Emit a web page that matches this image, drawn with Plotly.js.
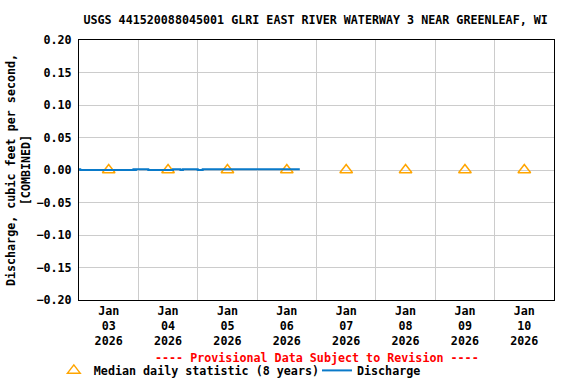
<!DOCTYPE html>
<html>
<head>
<meta charset="utf-8">
<script src="https://cdn.plot.ly/plotly-3.0.1.min.js"></script>
<style>html,body{margin:0;padding:0;background:#fff}#chart{width:576px;height:384px}</style>
</head>
<body>
<div id="chart"></div>
<script>
// Median daily statistic (8 years), plotted at noon of each day
var medianDates = ['2026-01-03 12:00','2026-01-04 12:00','2026-01-05 12:00','2026-01-06 12:00','2026-01-07 12:00','2026-01-08 12:00','2026-01-09 12:00','2026-01-10 12:00'];
var medianValues = [0, 0, 0, 0, 0, 0, 0, 0];

// Discharge (provisional)
var dischargeTimes = ['2026-01-03 00:00','2026-01-03 00:30','2026-01-03 01:00','2026-01-03 04:00','2026-01-03 08:00','2026-01-03 12:00','2026-01-03 16:00','2026-01-03 20:00','2026-01-03 22:00','2026-01-03 22:30','2026-01-03 23:00','2026-01-04 00:00','2026-01-04 01:00','2026-01-04 02:00','2026-01-04 03:00','2026-01-04 04:00','2026-01-04 06:00','2026-01-04 08:00','2026-01-04 10:00','2026-01-04 14:00','2026-01-04 15:00','2026-01-04 16:00','2026-01-04 17:00','2026-01-04 18:00','2026-01-04 20:00','2026-01-04 22:00','2026-01-05 00:00','2026-01-05 02:00','2026-01-05 04:00','2026-01-05 06:00','2026-01-05 08:00','2026-01-05 12:00','2026-01-05 16:00','2026-01-05 20:00','2026-01-06 00:00','2026-01-06 04:00','2026-01-06 08:00','2026-01-06 12:00','2026-01-06 17:15'];
var dischargeValues = [0.001,0,0,0,0,0,0,0,0.001,0,0.001,0.001,0.001,0.001,0.001,0,0,0,0,0.001,0.001,0.001,0,0.001,0.001,0.001,0,0.001,0.001,0.001,0.001,0.001,0.001,0.001,0.001,0.001,0.001,0.001,0.001];

// Tick labels
var tickDates = medianDates;
var tickLabels = ['Jan<br>03<br>2026','Jan<br>04<br>2026','Jan<br>05<br>2026','Jan<br>06<br>2026','Jan<br>07<br>2026','Jan<br>08<br>2026','Jan<br>09<br>2026','Jan<br>10<br>2026'];
var yTicks = [0.20, 0.15, 0.10, 0.05, 0.00, -0.05, -0.10, -0.15, -0.20];

var F = 'DejaVu Sans Mono, monospace';
var FS = 11.7;
function fnt(c) { return {family: F, size: FS, color: c || '#000', weight: 'bold'}; }

var traces = [
  {x: medianDates, y: medianValues, type: 'scatter', mode: 'markers', name: 'Median daily statistic (8 years)',
   legend: 'legend',
   marker: {symbol: 'triangle-up-open', size: 11, color: '#FFA500', line: {width: 1.5, color: '#FFA500'}}},
  {x: dischargeTimes, y: dischargeValues, type: 'scatter', mode: 'lines', name: 'Discharge',
   legend: 'legend2',
   line: {color: '#0a7ac9', width: 2, shape: 'hv'}}
];

var layout = {
  width: 576, height: 384,
  margin: {l: 79, r: 22, t: 40, b: 84, autoexpand: false},
  paper_bgcolor: '#fff', plot_bgcolor: '#fff',
  font: fnt(),
  title: {text: 'USGS 441520088045001 GLRI EAST RIVER WATERWAY 3 NEAR GREENLEAF, WI',
          font: fnt(), x: 0.548, xanchor: 'center', y: 0.948, yanchor: 'middle'},
  xaxis: {type: 'date', range: ['2026-01-03 00:00', '2026-01-11 00:00'],
          tickmode: 'array', tickvals: tickDates, ticktext: tickLabels, showgrid: false,
          ticks: '', zeroline: false, showline: true, linecolor: '#000', linewidth: 1, mirror: true,
          tickfont: fnt(), automargin: false,
          minor: {tick0: '2026-01-03 00:00', dtick: 86400000, showgrid: true, gridcolor: '#cccccc', gridwidth: 1, ticks: ''}},
  yaxis: {range: [-0.2, 0.2], tickmode: 'array', tickvals: yTicks, tickformat: '.2f',
          showgrid: true, gridcolor: '#cccccc', gridwidth: 1, zeroline: false, ticks: '',
          showline: true, linecolor: '#000', linewidth: 1, mirror: true, ticklabelstandoff: 4,
          tickfont: fnt(), automargin: false,
          title: {text: 'Discharge, cubic feet per second,<br>[COMBINED]', standoff: 3, font: fnt()}},
  showlegend: true,
  legend: {orientation: 'h', x: -0.053, xanchor: 'left', y: -0.215, yanchor: 'top',
           font: fnt(), itemwidth: 30, bgcolor: 'rgba(0,0,0,0)'},
  legend2: {orientation: 'h', x: 0.501, xanchor: 'left', y: -0.215, yanchor: 'top',
            font: fnt(), itemwidth: 30, bgcolor: 'rgba(0,0,0,0)'},
  annotations: [{text: '---- Provisional Data Subject to Revision ----', xref: 'paper', yref: 'paper',
                 x: 0.5, y: -0.223, xanchor: 'center', yanchor: 'middle', showarrow: false,
                 font: fnt('#ff0000')}]
};

Plotly.newPlot('chart', traces, layout, {displayModeBar: false, staticPlot: true});
</script>
</body>
</html>
